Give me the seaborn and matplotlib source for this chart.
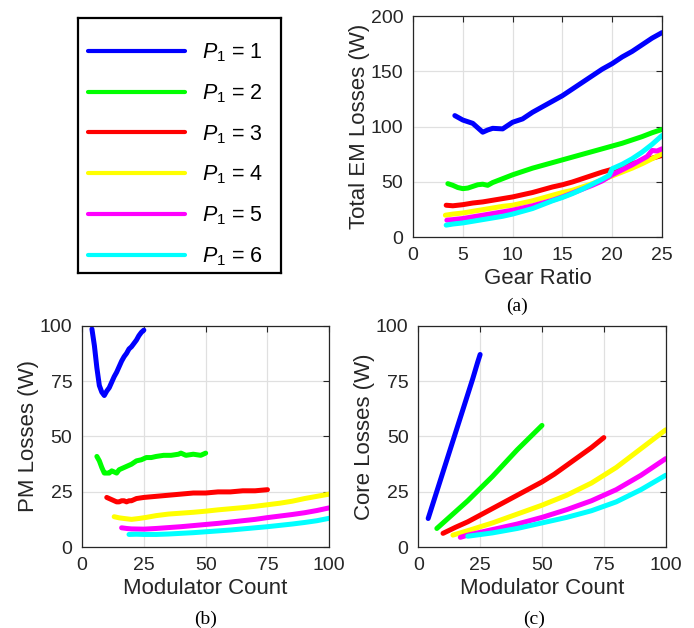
import matplotlib
matplotlib.use("Agg")
import matplotlib.pyplot as plt
import numpy as np
import pandas as pd
import seaborn as sns

# ---------------- data ----------------
p1_values = [1, 2, 3, 4, 5, 6]
colors = ["#0000ff", "#00ff00", "#ff0000", "#ffff00", "#ff00ff", "#00ffff"]
legend_labels = [r"$P_{\mathit{1}}$ = %d" % p for p in p1_values]

# (a) Total EM losses vs gear ratio
gr_1 = [4.2, 5, 6, 7, 7.5, 8, 9, 10, 11, 12, 13, 14, 15, 16, 17, 18, 19, 20, 21, 22, 23, 24, 25]
em_1 = [110, 106, 103, 95, 97, 98.5, 98, 104, 107, 113, 118, 123, 128, 134, 140, 146, 152, 157, 163, 168, 174, 180, 185]
gr_2 = [3.5, 4, 4.5, 5, 5.5, 6, 6.5, 7, 7.5, 8, 9, 10, 11, 12, 13, 14, 15, 16, 17, 18, 19, 20, 21, 22, 23, 24, 25]
em_2 = [48.5, 47, 45, 44, 44.5, 46, 47.5, 48, 47, 49.5, 53, 56.5, 59.5, 62.5, 65, 67.5, 70, 72.5, 75, 77.5, 80, 82.5, 85, 88, 91, 94.5, 97.5]
gr_3 = [3.33, 4, 5, 6, 7, 8, 9, 10, 11, 12, 13, 14, 15, 16, 17, 18, 19, 20, 21, 22, 23, 24, 25]
em_3 = [29, 28.5, 29.5, 31, 32, 33.5, 35, 36.5, 38.5, 40.5, 43, 45.5, 47.5, 50, 53, 56, 59, 61.5, 64, 66.5, 69, 71.5, 74]
gr_4 = [3.25, 4, 5, 6, 7, 8, 9, 10, 11, 12, 13, 14, 15, 16, 17, 18, 19, 20, 21, 22, 23, 24, 25]
em_4 = [20, 21, 22, 23.5, 25, 26.5, 28, 29, 31, 33, 35.5, 38, 40.5, 42.5, 45.5, 48.5, 52, 55.5, 59, 62.5, 66.5, 71, 75.5]
gr_5 = [3.4, 4, 5, 6, 7, 8, 9, 10, 11, 12, 13, 14, 15, 16, 17, 18, 19, 20, 21, 22, 23, 23.5, 24, 24.5, 25]
em_5 = [15.5, 16, 17, 18.5, 20, 21.5, 23, 24.5, 26.5, 28.5, 31, 33.5, 36.5, 40, 43.5, 47, 51, 56.5, 61, 65.5, 70.5, 73, 78.5, 78, 80]
gr_6 = [3.33, 4, 5, 6, 7, 8, 9, 10, 11, 12, 13, 14, 15, 16, 17, 18, 19, 19.7, 20, 21, 22, 23, 24, 25]
em_6 = [11, 12, 13, 14.5, 16, 17.5, 19, 21, 23.5, 26, 29.5, 33, 36, 39.5, 43.5, 48, 52.5, 56, 62, 66, 71, 77, 84, 92]

# (b) PM losses vs modulator count
mc_pm_1 = [4, 5, 6, 7, 8, 9, 10, 11, 12, 13, 14, 15, 16, 17, 18, 19, 20, 21, 22, 23, 24, 25]
pm_1 = [98.5, 91, 81, 73, 70, 68.5, 70.5, 72, 74.5, 77, 79, 81.5, 84, 86, 87.5, 89.5, 90.5, 92, 93.5, 95.5, 97, 98]
mc_pm_2 = [6, 7, 8, 9, 10, 11, 12, 13, 14, 15, 16, 17, 18, 20, 22, 24, 26, 28, 30, 33, 36, 39, 40, 42, 45, 48, 50]
pm_2 = [41, 39, 36, 33.5, 33.5, 33.5, 34.5, 34, 33.5, 35, 35.5, 36, 36.5, 37.5, 39, 39.5, 40.5, 40.5, 41, 41.5, 41.5, 42, 42.5, 41.5, 42, 41.5, 42.5]
mc_pm_3 = [10, 11, 12, 13, 14, 15, 16, 17, 18, 19, 20, 22, 25, 30, 35, 40, 45, 50, 55, 60, 65, 70, 75]
pm_3 = [22.5, 22, 21.5, 21, 20.5, 20.5, 21, 21, 20.5, 21, 21, 22, 22.5, 23, 23.5, 24, 24.5, 24.5, 25, 25, 25.5, 25.5, 26]
mc_pm_4 = [13, 15, 17, 20, 23, 26, 30, 35, 40, 45, 50, 55, 60, 65, 70, 75, 80, 85, 90, 95, 100]
pm_4 = [13.8, 13.3, 13, 12.6, 13, 13.5, 14.3, 15, 15.4, 15.8, 16.3, 16.9, 17.4, 17.9, 18.5, 19.2, 19.9, 20.8, 22, 23, 24]
mc_pm_5 = [16, 18, 20, 25, 30, 35, 40, 45, 50, 55, 60, 65, 70, 75, 80, 85, 90, 95, 100]
pm_5 = [8.8, 8.5, 8.3, 8.2, 8.5, 8.9, 9.3, 9.8, 10.3, 10.8, 11.4, 12, 12.6, 13.4, 14.1, 14.8, 15.6, 16.6, 17.8]
mc_pm_6 = [19, 22, 25, 30, 35, 40, 45, 50, 55, 60, 65, 70, 75, 80, 85, 90, 95, 100]
pm_6 = [5.8, 5.9, 5.8, 5.8, 6, 6.3, 6.6, 7, 7.4, 7.8, 8.3, 8.8, 9.3, 9.9, 10.5, 11.2, 12, 13.1]

# (c) Core losses vs modulator count
mc_core_1 = [4, 6, 8, 10, 12, 14, 16, 18, 20, 22, 24, 25]
core_1 = [13, 20, 27, 34, 41, 48, 55, 62, 69, 76, 83.5, 87]
mc_core_2 = [7.5, 10, 15, 20, 25, 30, 35, 40, 45, 50]
core_2 = [8.5, 11, 16, 21, 26.5, 32, 38, 44, 49.5, 55]
mc_core_3 = [10, 15, 20, 25, 30, 35, 40, 45, 50, 55, 60, 65, 70, 75]
core_3 = [6.3, 9, 11.5, 14.5, 17.5, 20.5, 23.5, 26.5, 29.5, 33, 37, 41, 45, 49.5]
mc_core_4 = [14, 20, 30, 40, 50, 60, 70, 80, 90, 100]
core_4 = [5.5, 7.5, 11, 15, 19, 23.5, 29, 36, 44.5, 53]
mc_core_5 = [17, 20, 30, 40, 50, 60, 70, 80, 90, 100]
core_5 = [4.5, 5.5, 8, 10.5, 13.5, 17, 21, 26, 32.5, 40]
mc_core_6 = [20, 30, 40, 50, 60, 70, 80, 90, 100]
core_6 = [5, 6.5, 8.5, 11, 13.5, 16.5, 20.5, 26, 32.5]


def long_frame(xs_list, ys_list):
    parts = []
    for p, xs, ys in zip(p1_values, xs_list, ys_list):
        parts.append(pd.DataFrame({"x": xs, "y": ys, "P1": p}))
    return pd.concat(parts, ignore_index=True)


df_a = long_frame([gr_1, gr_2, gr_3, gr_4, gr_5, gr_6], [em_1, em_2, em_3, em_4, em_5, em_6])
df_b = long_frame([mc_pm_1, mc_pm_2, mc_pm_3, mc_pm_4, mc_pm_5, mc_pm_6], [pm_1, pm_2, pm_3, pm_4, pm_5, pm_6])
df_c = long_frame([mc_core_1, mc_core_2, mc_core_3, mc_core_4, mc_core_5, mc_core_6],
                  [core_1, core_2, core_3, core_4, core_5, core_6])

# ---------------- style ----------------
sns.set_theme(style="white")
plt.rcParams["font.family"] = ["Liberation Sans", "DejaVu Sans"]
plt.rcParams["mathtext.fontset"] = "custom"
plt.rcParams["mathtext.it"] = "Liberation Sans:italic"
plt.rcParams["mathtext.rm"] = "Liberation Sans"

palette = dict(zip(p1_values, colors))
TXT = "#262626"

fig = plt.figure(figsize=(6.94, 6.28), dpi=100)
axA = fig.add_axes([0.5951, 0.6221, 0.3588, 0.3524])
axB = fig.add_axes([0.1182, 0.1285, 0.3563, 0.3529])
axC = fig.add_axes([0.6027, 0.1285, 0.3565, 0.3529])
axL = fig.add_axes([0.1128, 0.5648, 0.2916, 0.4060])


def draw(ax, df, legend):
    sns.lineplot(data=df, x="x", y="y", hue="P1", palette=palette, estimator=None,
                 sort=False, lw=3.6, ax=ax, legend=legend)


def style(ax, xlim, ylim, xticks, yticks, xlabel, ylabel):
    ax.set_xlim(xlim)
    ax.set_ylim(ylim)
    ax.set_xticks(xticks)
    ax.set_yticks(yticks)
    ax.grid(True, color="#e0e0e0", lw=0.9)
    ax.set_axisbelow(True)
    for s in ax.spines.values():
        s.set_visible(True)
        s.set_color(TXT)
        s.set_linewidth(0.9)
    ax.tick_params(direction="in", length=4, width=0.8, colors=TXT, labelsize=14,
                   top=True, right=True, pad=7)
    ax.set_xlabel(xlabel, fontsize=16, color=TXT, labelpad=3)
    ax.set_ylabel(ylabel, fontsize=16, color=TXT, labelpad=0.5)


draw(axA, df_a, True)
handles, _ = axA.get_legend_handles_labels()
if axA.get_legend() is not None:
    axA.get_legend().remove()
draw(axB, df_b, False)
draw(axC, df_c, False)

style(axA, (0, 25), (0, 200), [0, 5, 10, 15, 20, 25], [0, 50, 100, 150, 200],
      "Gear Ratio", "Total EM Losses (W)")
style(axB, (0, 100), (0, 100), [0, 25, 50, 75, 100], [0, 25, 50, 75, 100],
      "Modulator Count", "PM Losses (W)")
style(axC, (0, 100), (0, 100), [0, 25, 50, 75, 100], [0, 25, 50, 75, 100],
      "Modulator Count", "Core Losses (W)")

# legend box
axL.set_xticks([])
axL.set_yticks([])
axL.set_facecolor("white")
for s in axL.spines.values():
    s.set_visible(True)
    s.set_color("black")
    s.set_linewidth(1.6)
leg = axL.legend(handles, legend_labels, loc="center", bbox_to_anchor=(0.483, 0.465),
                 frameon=False, fontsize=15.5, borderpad=0, borderaxespad=0,
                 handlelength=4.5, handletextpad=0.8, labelspacing=0.85)
for ln in leg.get_lines():
    ln.set_linewidth(3.0)
for t in leg.get_texts():
    t.set_color("black")

# panel captions
fig.text(516.7 / 694, 1 - 306.7 / 628, "(a)", ha="center", va="center",
         family="Liberation Serif", fontsize=14, color="black")
fig.text(205.7 / 694, 1 - 619 / 628, "(b)", ha="center", va="center",
         family="Liberation Serif", fontsize=14, color="black")
fig.text(534 / 694, 1 - 619 / 628, "(c)", ha="center", va="center",
         family="Liberation Serif", fontsize=14, color="black")

fig.savefig("out.png", dpi=100)
